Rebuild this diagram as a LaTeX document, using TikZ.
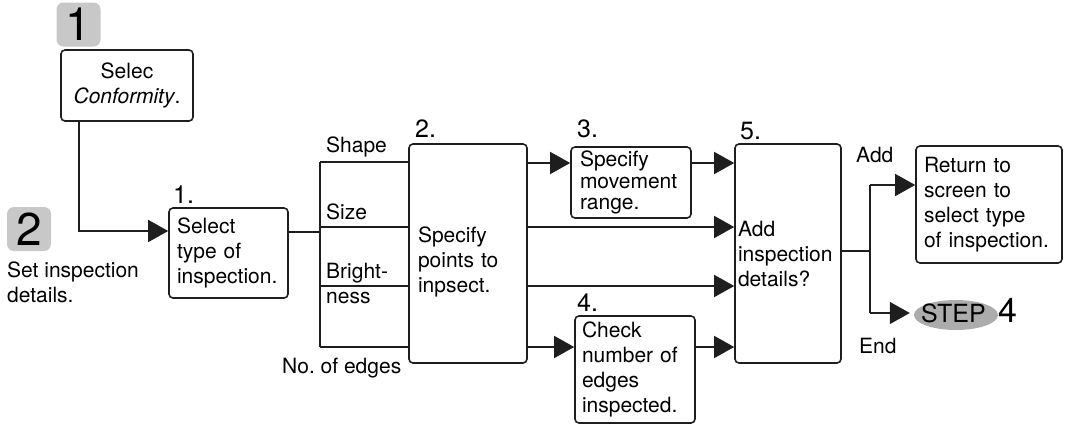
\documentclass[tikz,border=0pt]{standalone}
\usepackage{fontspec}
\setmainfont{TeX Gyre Heros}
\usetikzlibrary{arrows.meta,shapes.geometric}
\definecolor{badgegray}{RGB}{200,200,200}
\definecolor{ellgray}{RGB}{172,172,172}
\definecolor{ink}{RGB}{30,30,30}
\newcommand\fs{\fontsize{21}{25}\selectfont}
\frenchspacing
\begin{document}
\begin{tikzpicture}[x=1pt,y=-1pt,
  box/.style={draw=ink, line width=1.6pt, rounded corners=4pt, align=left, inner ysep=0pt, font=\fs},
  conn/.style={draw=ink, line width=1.4pt},
  arr/.style={conn, -{Triangle[length=20pt,width=22pt]}},
  lbl/.style={font=\fs, inner sep=0pt, anchor=base west},
  num/.style={font=\fontsize{25}{25}\selectfont, inner sep=0pt, anchor=base west},
  badge/.style={fill=badgegray, rounded corners=7pt, minimum width=44pt, minimum height=44pt, inner sep=0pt, font=\fontsize{46}{46}\selectfont}]
\useasboundingbox (0,0) rectangle (1066,426);

% badges
\node[badge] (bd1) at (78.5,24.5) {1};
\node[badge] (bd2) at (29,229) {2};
\node[font=\fs, align=left, inner sep=0pt, anchor=north west] (sid) at (7,261.5) {Set inspection\\details.};

% boxes
\node[box, align=center, minimum width=132pt, minimum height=71pt, inner xsep=0pt] (b0) at (127,85.5) {Selec\\\textit{Conformity}.};
\node[box, text width=103pt, inner xsep=8pt, minimum height=90pt] (b1) at (228.5,253) {Select\\type of\\inspection.};
\node[box, text width=100pt, inner xsep=9pt, minimum height=219pt] (b2) at (468,253.5) {\mbox{}\\[8pt]Specify\\points to\\inpsect.};
\node[box, text width=102pt, inner xsep=9pt, minimum height=71pt, font=\fontsize{21}{21.5}\selectfont] (b3) at (631,182.5) {Specify\\movement\\range.};
\node[box, text width=106pt, inner xsep=7pt, minimum height=107pt] (b4) at (635,369.5) {Check\\number of\\edges\\inspected.};
\node[box, text width=100pt, inner xsep=3pt, minimum height=219pt] (b5) at (788,253.5) {Add\\inspection\\details?};
\node[box, text width=130pt, inner xsep=8pt, minimum height=117pt] (b6) at (989,204.5) {Return to\\screen to\\select type\\of inspection.};

% step ellipse
\node[ellipse, fill=ellgray, minimum width=84pt, minimum height=30pt, inner sep=0pt] (stepE) at (956,315) {};
\node[font=\fontsize{25}{25}\selectfont, inner sep=0pt, anchor=base west] (steptxt) at (921,322) {STEP};
\node[font=\fontsize{34}{34}\selectfont, inner sep=0pt, anchor=base west] (stepnum) at (998,322) {4};

% number labels
\node[num] (n1) at (173,203) {1.};
\node[num] (n2) at (415,137) {2.};
\node[num] (n3) at (577,137) {3.};
\node[num] (n4) at (577,311) {4.};
\node[num] (n5) at (740,139) {5.};

% branch labels
\node[lbl] (lshape) at (326,152) {Shape};
\node[lbl] (lsize) at (326,219) {Size};
\node[lbl] (lbr1) at (326,278) {Bright-};
\node[lbl] (lbr2) at (326,303) {ness};
\node[lbl] (ledge) at (282,373) {No. of edges};
\node[lbl] (ladd) at (856,162) {Add};
\node[lbl] (lend) at (859,353) {End};

% coordinates
\coordinate (c0) at (79,231);
\coordinate (f1) at (320,232);
\coordinate (spS) at (320,162);
\coordinate (spZ) at (320,227);
\coordinate (spB) at (320,286);
\coordinate (spE) at (320,347);
\coordinate (yA) at (0,163);
\coordinate (j) at (870,251);
\coordinate (jt) at (870,185);
\coordinate (jb) at (870,313);

% connectors
\draw[arr] (b0.south -| c0) -- (c0) -- (b1.west |- c0);
\draw[conn] (b1.east |- f1) -- (f1);
\draw[conn] (spS) -- (spE);
\draw[conn] (spS) -- (b2.west |- spS);
\draw[conn] (spZ) -- (b2.west |- spZ);
\draw[conn] (spB) -- (b2.west |- spB);
\draw[conn] (spE) -- (b2.west |- spE);
\draw[arr] (b2.east |- yA) -- (b3.west |- yA);
\draw[arr] (b3.east |- yA) -- (b5.west |- yA);
\draw[arr] (b2.east |- spZ) -- (b5.west |- spZ);
\draw[arr] (b2.east |- spB) -- (b5.west |- spB);
\draw[arr] (b2.east |- spE) -- (b4.west |- spE);
\draw[arr] (b4.east |- spE) -- (b5.west |- spE);
\draw[conn] (b5.east |- j) -- (j);
\draw[conn] (jt) -- (jb);
\draw[arr] (jt) -- (b6.west |- jt);
\draw[arr, shorten >=4pt] (jb) -- (stepE.west |- jb);
\end{tikzpicture}
\end{document}
